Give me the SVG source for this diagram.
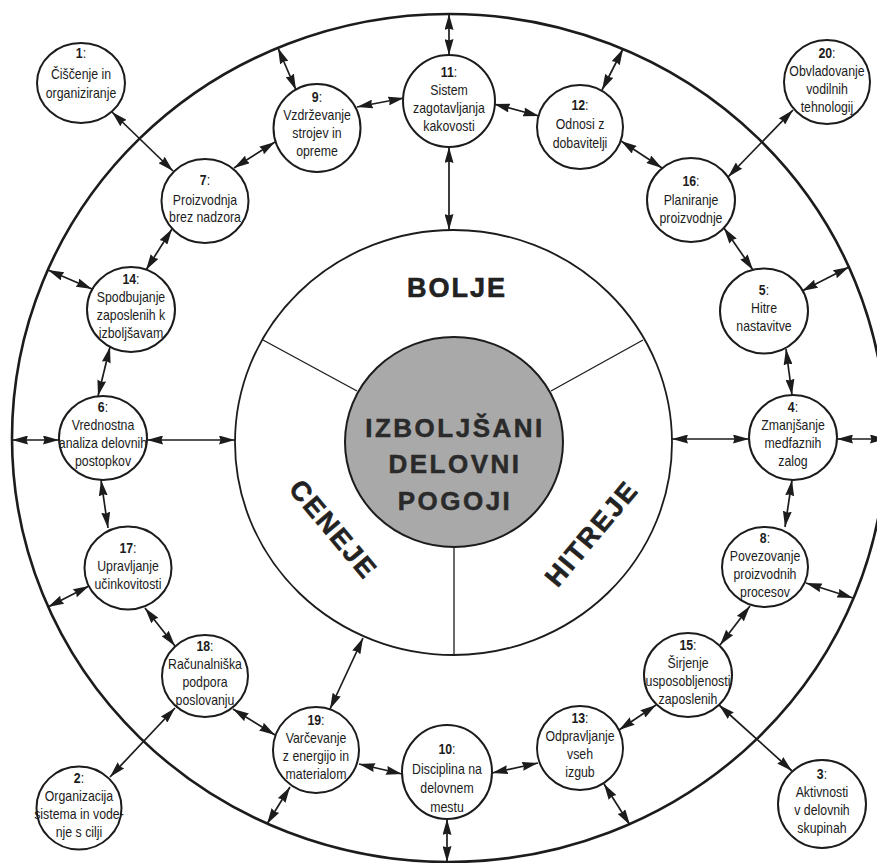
<svg xmlns="http://www.w3.org/2000/svg" width="877" height="863" viewBox="0 0 877 863">
<style>
.bg{fill:#ffffff}
.outer{fill:none;stroke:#1c1c1c;stroke-width:2.6}
.inner{fill:#ffffff;stroke:#1c1c1c;stroke-width:1.8}
.core{fill:#a9a9a9;stroke:#1c1c1c;stroke-width:2}
.div{stroke:#1c1c1c;stroke-width:1.3}
.node ellipse{fill:#ffffff;stroke:#1c1c1c;stroke-width:2}
.node text{font-family:"Liberation Sans",Arial,sans-serif;font-size:14px;fill:#1c1c1c;text-anchor:middle}
.num{font-weight:bold}
.conn line{stroke:#1c1c1c;stroke-width:1.7;marker-start:url(#ah);marker-end:url(#ah)}
.big{font-family:"Liberation Sans",Arial,sans-serif;font-weight:bold;fill:#222;text-anchor:middle;letter-spacing:2px;stroke:#222;stroke-width:0.6}
.core-t{font-family:"Liberation Sans",Arial,sans-serif;font-weight:bold;font-size:26px;fill:#2a2a2a;text-anchor:middle;letter-spacing:2.5px;stroke:#2a2a2a;stroke-width:0.5}
</style>
<defs>
<marker id="ah" viewBox="0 0 16 9" refX="16" refY="4.5" markerWidth="16" markerHeight="9" markerUnits="userSpaceOnUse" orient="auto-start-reverse">
<path d="M0,0 L16,4.5 L0,9 L1.5,4.5 z" fill="#1c1c1c"/>
</marker>
</defs>
<rect class="bg" x="0" y="0" width="877" height="863"/>
<ellipse class="outer" cx="449" cy="438" rx="437" ry="424"/>
<ellipse class="inner" cx="453.5" cy="442.5" rx="218.5" ry="212.5"/>
<line class="div" x1="263" y1="340" x2="357" y2="391"/>
<line class="div" x1="643" y1="340" x2="551" y2="391"/>
<line class="div" x1="454" y1="547" x2="454" y2="655"/>
<ellipse class="core" cx="454" cy="442" rx="109" ry="105"/>
<text class="core-t"><tspan x="455" y="437">IZBOLJŠANI</tspan><tspan x="455" y="473">DELOVNI</tspan><tspan x="455" y="510">POGOJI</tspan></text>
<text class="big" x="457" y="297" font-size="27">BOLJE</text>
<text class="big" font-size="27" transform="translate(334 529) rotate(50)" x="0" y="10">CENEJE</text>
<text class="big" font-size="27" transform="translate(591 533) rotate(-50)" x="0" y="10">HITREJE</text>

<g id="connectors" class="conn">
<line x1="112" y1="112" x2="173" y2="171"/>
<line x1="278" y1="48" x2="296" y2="90"/>
<line x1="234" y1="168" x2="275" y2="142"/>
<line x1="357" y1="107" x2="404" y2="98"/>
<line x1="449" y1="14" x2="449" y2="55"/>
<line x1="449" y1="147" x2="449" y2="230"/>
<line x1="494" y1="104" x2="539" y2="116"/>
<line x1="623" y1="49" x2="602" y2="90"/>
<line x1="621" y1="141" x2="662" y2="168"/>
<line x1="793" y1="110" x2="728" y2="177"/>
<line x1="724" y1="228" x2="753" y2="270"/>
<line x1="802" y1="291" x2="849" y2="267"/>
<line x1="786" y1="349" x2="792" y2="395"/>
<line x1="672" y1="439" x2="749" y2="439"/>
<line x1="837" y1="439" x2="886" y2="439"/>
<line x1="792" y1="480" x2="785" y2="527"/>
<line x1="806" y1="583" x2="853" y2="598"/>
<line x1="750" y1="606" x2="720" y2="645"/>
<line x1="719" y1="705" x2="792" y2="771"/>
<line x1="656" y1="705" x2="619" y2="730"/>
<line x1="604" y1="784" x2="630" y2="825"/>
<line x1="538" y1="763" x2="492" y2="773"/>
<line x1="447" y1="819" x2="447" y2="862"/>
<line x1="359" y1="764" x2="402" y2="774"/>
<line x1="363" y1="638" x2="330" y2="709"/>
<line x1="267" y1="824" x2="290" y2="787"/>
<line x1="233" y1="709" x2="275" y2="735"/>
<line x1="175" y1="708" x2="110" y2="777"/>
<line x1="145" y1="608" x2="175" y2="646"/>
<line x1="48" y1="607" x2="89" y2="586"/>
<line x1="101" y1="480" x2="108" y2="528"/>
<line x1="12" y1="440" x2="59" y2="440"/>
<line x1="147" y1="440" x2="235" y2="440"/>
<line x1="110" y1="347" x2="98" y2="396"/>
<line x1="48" y1="270" x2="92" y2="289"/>
<line x1="172" y1="229" x2="146" y2="270"/>
</g>

<g id="n1" class="node"><ellipse cx="81" cy="83" rx="44" ry="40"/>
<text transform="translate(81 0) scale(0.88 1)"><tspan x="0" y="58"><tspan class="num">1</tspan>:</tspan><tspan x="0" y="79">Čiščenje in</tspan><tspan x="0" y="98">organiziranje</tspan></text></g>

<g id="n7" class="node"><ellipse cx="205" cy="201" rx="43.5" ry="42"/>
<text transform="translate(205 0) scale(0.88 1)"><tspan x="0" y="185"><tspan class="num">7</tspan>:</tspan><tspan x="0" y="205">Proizvodnja</tspan><tspan x="0" y="222">brez nadzora</tspan></text></g>

<g id="n9" class="node"><ellipse cx="317" cy="128" rx="43.5" ry="44"/>
<text transform="translate(317 0) scale(0.88 1)"><tspan x="0" y="102"><tspan class="num">9</tspan>:</tspan><tspan x="0" y="120">Vzdrževanje</tspan><tspan x="0" y="138">strojev in</tspan><tspan x="0" y="156">opreme</tspan></text></g>

<g id="n11" class="node"><ellipse cx="449" cy="101" rx="46" ry="46"/>
<text transform="translate(449 0) scale(0.88 1)"><tspan x="0" y="77"><tspan class="num">11</tspan>:</tspan><tspan x="0" y="95">Sistem</tspan><tspan x="0" y="113">zagotavljanja</tspan><tspan x="0" y="131">kakovosti</tspan></text></g>

<g id="n12" class="node"><ellipse cx="580" cy="127" rx="43" ry="42"/>
<text transform="translate(580 0) scale(0.88 1)"><tspan x="0" y="110"><tspan class="num">12</tspan>:</tspan><tspan x="0" y="129">Odnosi z</tspan><tspan x="0" y="148">dobavitelji</tspan></text></g>

<g id="n20" class="node"><ellipse cx="827" cy="82" rx="43" ry="42"/>
<text transform="translate(827 0) scale(0.88 1)"><tspan x="0" y="58"><tspan class="num">20</tspan>:</tspan><tspan x="0" y="76">Obvladovanje</tspan><tspan x="0" y="94">vodilnih</tspan><tspan x="0" y="112">tehnologij</tspan></text></g>

<g id="n16" class="node"><ellipse cx="691" cy="200" rx="44" ry="42"/>
<text transform="translate(691 0) scale(0.88 1)"><tspan x="0" y="186"><tspan class="num">16</tspan>:</tspan><tspan x="0" y="205">Planiranje</tspan><tspan x="0" y="223">proizvodnje</tspan></text></g>

<g id="n5" class="node"><ellipse cx="764" cy="311" rx="44" ry="42.5"/>
<text transform="translate(764 0) scale(0.88 1)"><tspan x="0" y="295"><tspan class="num">5</tspan>:</tspan><tspan x="0" y="313">Hitre</tspan><tspan x="0" y="331">nastavitve</tspan></text></g>

<g id="n4" class="node"><ellipse cx="793" cy="437.5" rx="44" ry="42.5"/>
<text transform="translate(793 0) scale(0.88 1)"><tspan x="0" y="412"><tspan class="num">4</tspan>:</tspan><tspan x="0" y="430">Zmanjšanje</tspan><tspan x="0" y="448">medfaznih</tspan><tspan x="0" y="466">zalog</tspan></text></g>

<g id="n8" class="node"><ellipse cx="765" cy="567" rx="43" ry="40"/>
<text transform="translate(765 0) scale(0.88 1)"><tspan x="0" y="543"><tspan class="num">8</tspan>:</tspan><tspan x="0" y="561">Povezovanje</tspan><tspan x="0" y="579">proizvodnih</tspan><tspan x="0" y="597">procesov</tspan></text></g>

<g id="n15" class="node"><ellipse cx="688" cy="675" rx="44" ry="42"/>
<text transform="translate(688 0) scale(0.88 1)"><tspan x="0" y="650"><tspan class="num">15</tspan>:</tspan><tspan x="0" y="668">Širjenje</tspan><tspan x="0" y="686">usposobljenosti</tspan><tspan x="0" y="704">zaposlenih</tspan></text></g>

<g id="n3" class="node"><ellipse cx="822" cy="804" rx="44" ry="44"/>
<text transform="translate(822 0) scale(0.88 1)"><tspan x="0" y="779"><tspan class="num">3</tspan>:</tspan><tspan x="0" y="797">Aktivnosti</tspan><tspan x="0" y="815">v delovnih</tspan><tspan x="0" y="833">skupinah</tspan></text></g>

<g id="n13" class="node"><ellipse cx="580" cy="748" rx="43" ry="42"/>
<text transform="translate(580 0) scale(0.88 1)"><tspan x="0" y="723"><tspan class="num">13</tspan>:</tspan><tspan x="0" y="741">Odpravljanje</tspan><tspan x="0" y="759">vseh</tspan><tspan x="0" y="777">izgub</tspan></text></g>

<g id="n10" class="node"><ellipse cx="447" cy="772" rx="45" ry="47"/>
<text transform="translate(447 0) scale(0.88 1)"><tspan x="0" y="754"><tspan class="num">10</tspan>:</tspan><tspan x="0" y="774">Disciplina na</tspan><tspan x="0" y="793">delovnem</tspan><tspan x="0" y="812">mestu</tspan></text></g>

<g id="n19" class="node"><ellipse cx="316" cy="750" rx="43" ry="43"/>
<text transform="translate(316 0) scale(0.88 1)"><tspan x="0" y="725"><tspan class="num">19</tspan>:</tspan><tspan x="0" y="743">Varčevanje</tspan><tspan x="0" y="761">z energijo in</tspan><tspan x="0" y="779">materialom</tspan></text></g>

<g id="n18" class="node"><ellipse cx="205" cy="676" rx="43" ry="41"/>
<text transform="translate(205 0) scale(0.88 1)"><tspan x="0" y="651"><tspan class="num">18</tspan>:</tspan><tspan x="0" y="669">Računalniška</tspan><tspan x="0" y="687">podpora</tspan><tspan x="0" y="705">poslovanju</tspan></text></g>

<g id="n2" class="node"><ellipse cx="79" cy="808" rx="42.5" ry="41.5"/>
<text transform="translate(79 0) scale(0.88 1)"><tspan x="0" y="783"><tspan class="num">2</tspan>:</tspan><tspan x="0" y="801">Organizacija</tspan><tspan x="0" y="819">sistema in vode-</tspan><tspan x="0" y="837">nje s cilji</tspan></text></g>

<g id="n17" class="node"><ellipse cx="128" cy="568" rx="43.5" ry="41.5"/>
<text transform="translate(128 0) scale(0.88 1)"><tspan x="0" y="553"><tspan class="num">17</tspan>:</tspan><tspan x="0" y="571">Upravljanje</tspan><tspan x="0" y="589">učinkovitosti</tspan></text></g>

<g id="n6" class="node"><ellipse cx="103" cy="438" rx="44" ry="42"/>
<text transform="translate(103 0) scale(0.88 1)"><tspan x="0" y="412"><tspan class="num">6</tspan>:</tspan><tspan x="0" y="430">Vrednostna</tspan><tspan x="0" y="448">analiza delovnih</tspan><tspan x="0" y="466">postopkov</tspan></text></g>

<g id="n14" class="node"><ellipse cx="131" cy="309.5" rx="44" ry="42.5"/>
<text transform="translate(131 0) scale(0.88 1)"><tspan x="0" y="284"><tspan class="num">14</tspan>:</tspan><tspan x="0" y="302">Spodbujanje</tspan><tspan x="0" y="320">zaposlenih k</tspan><tspan x="0" y="338">izboljšavam</tspan></text></g>
</svg>
